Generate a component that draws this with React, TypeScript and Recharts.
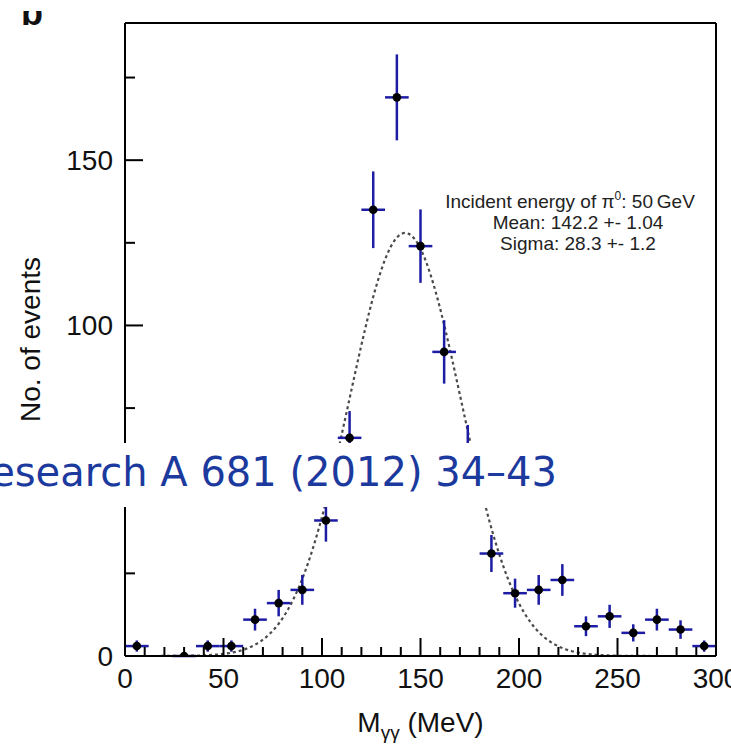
import React from 'react';
import {
  ComposedChart,
  ErrorBar,
  Label,
  Line,
  ReferenceLine,
  Scatter,
  XAxis,
  YAxis,
} from 'recharts';

// two-photon invariant mass histogram, 12 MeV bins
const binCentres = [6, 30, 42, 54, 66, 78, 90, 102, 114, 126, 138, 150, 162, 174, 186, 198, 210, 222, 234, 246, 258, 270, 282, 294];
const eventCounts = [3, 0, 3, 3, 11, 16, 20, 41, 66, 135, 169, 124, 92, 62, 31, 19, 20, 23, 9, 12, 7, 11, 8, 3];
const countErrors = [1.7, 0, 1.7, 1.7, 3.3, 4, 4.5, 6.4, 8.1, 11.6, 13, 11.1, 9.6, 7.9, 5.6, 4.4, 4.5, 4.8, 3, 3.5, 2.6, 3.3, 2.8, 1.7];
const binHalfWidth = 6;

// gaussian fit parameters
const fitMean = 142.2;
const fitSigma = 28.3;
const fitPeak = 128;
const fitStart = 0;
const fitEnd = 300;

const xTicks = [0, 10, 20, 30, 40, 50, 60, 70, 80, 90, 100, 110, 120, 130, 140, 150, 160, 170, 180, 190, 200, 210, 220, 230, 240, 250, 260, 270, 280, 290, 300];
const xTickLabels = [0, 50, 100, 150, 200, 250, 300];
const yTicks = [0, 25, 50, 75, 100, 125, 150, 175];
const yTickLabels = [0, 50, 100, 150];
const yMax = 191.5;

const fitLines = ['Incident energy of π', ': 50\u2009GeV', 'Mean: 142.2 +- 1.04', 'Sigma: 28.3 +- 1.2'];
const sourceNote = 'Research A 681 (2012) 34\u201343';

const font = '"Liberation Sans", Arial, sans-serif';
const noteFont = '"DejaVu Sans", sans-serif';
const errColor = '#1c1ca4';

const points = binCentres.map((m, i) => ({
  m,
  n: eventCounts[i],
  ey: countErrors[i],
  ex: binHalfWidth,
}));

const fitCurve: { m: number; n: number }[] = [];
for (let m = fitStart; m <= fitEnd; m += 1) {
  const z = (m - fitMean) / fitSigma;
  fitCurve.push({ m, n: fitPeak * Math.exp(-0.5 * z * z) });
}

const XTick = (props: any) => {
  const { x, y, payload } = props;
  const major = xTickLabels.includes(payload.value);
  return (
    <g>
      <line x1={x} x2={x} y1={y} y2={y - (major ? 18 : 9)} stroke='#000' strokeWidth={2} />
      {major && (
        <text x={x} y={y + 32} textAnchor='middle' fontSize={28} fontFamily={font} fill='#111'>
          {payload.value}
        </text>
      )}
    </g>
  );
};

const YTick = (props: any) => {
  const { x, y, payload } = props;
  const major = yTickLabels.includes(payload.value);
  return (
    <g>
      <line x1={x} x2={x + (major ? 18 : 10)} y1={y} y2={y} stroke='#000' strokeWidth={2} />
      {major && (
        <text x={x - 12} y={y + 10} textAnchor='end' fontSize={28} fontFamily={font} fill='#111'>
          {payload.value}
        </text>
      )}
    </g>
  );
};

const MassTitle = (props: any) => {
  const { viewBox } = props;
  const cx = viewBox.x + viewBox.width / 2;
  return (
    <text x={cx} y={732} textAnchor='middle' fontSize={28} fontFamily={font} fill='#111'>
      M
      <tspan fontSize={19} dy={7}>γγ</tspan>
      <tspan dy={-7}> (MeV)</tspan>
    </text>
  );
};

const Dot = (props: any) => <circle cx={props.cx} cy={props.cy} r={4.3} fill='#000' />;

export default function App() {
  return (
    <div style={{ position: 'absolute', left: 0, top: 0, width: 731, height: 746, background: '#fff' }}>
      <ComposedChart
        width={731}
        height={746}
        data={fitCurve}
        margin={{ top: 23, right: 15, bottom: 0, left: 0 }}
      >
        <XAxis
          dataKey='m'
          type='number'
          domain={[0, 300]}
          allowDataOverflow
          ticks={xTicks}
          interval={0}
          height={90}
          tickSize={0}
          tickMargin={0}
          tickLine={false}
          tick={<XTick />}
          axisLine={{ stroke: '#000', strokeWidth: 2 }}
        >
          <Label content={<MassTitle />} />
        </XAxis>
        <YAxis
          dataKey='n'
          type='number'
          domain={[0, yMax]}
          allowDataOverflow
          ticks={yTicks}
          interval={0}
          width={125}
          tickSize={0}
          tickMargin={0}
          tickLine={false}
          tick={<YTick />}
          axisLine={{ stroke: '#000', strokeWidth: 2 }}
          label={{
            value: 'No. of events',
            angle: -90,
            position: 'center',
            dx: -32,
            fontSize: 28,
            fontFamily: font,
            fill: '#111',
          }}
        />
        <ReferenceLine y={yMax} stroke='#000' strokeWidth={2} />
        <ReferenceLine x={300} stroke='#000' strokeWidth={2} />
        <Line
          dataKey='n'
          type='linear'
          stroke='#4a4a4a'
          strokeWidth={2.2}
          strokeDasharray='3 3'
          dot={false}
          isAnimationActive={false}
        />
        <Scatter data={points} dataKey='n' shape={<Dot />} isAnimationActive={false}>
          <ErrorBar dataKey='ey' direction='y' width={0} stroke={errColor} strokeWidth={2.5} />
          <ErrorBar dataKey='ex' direction='x' width={0} stroke={errColor} strokeWidth={2.5} />
        </Scatter>
      </ComposedChart>

      <svg
        width={731}
        height={746}
        style={{ position: 'absolute', left: 0, top: 0, pointerEvents: 'none' }}
      >
        <defs>
          <clipPath id='panel-letter'>
            <rect x={0} y={11} width={80} height={30} />
          </clipPath>
        </defs>
        <text x={21} y={25} fontSize={36} fontWeight='bold' fontFamily={font} fill='#111' clipPath='url(#panel-letter)'>
          b
        </text>

        <g fontFamily={font} fontSize={19} fill='#222' textAnchor='middle'>
          <text x={570} y={208}>
            {fitLines[0]}
            <tspan fontSize={12} dy={-8}>0</tspan>
            <tspan dy={8}>{fitLines[1]}</tspan>
          </text>
          <text x={578} y={229}>{fitLines[2]}</text>
          <text x={578} y={250}>{fitLines[3]}</text>
        </g>

        <rect x={0} y={443} width={562} height={64} fill='#fff' />
        <text x={557} y={486} textAnchor='end' fontSize={40} fontFamily={noteFont} fill='#1c3a9e'>
          {sourceNote}
        </text>
      </svg>
    </div>
  );
}
